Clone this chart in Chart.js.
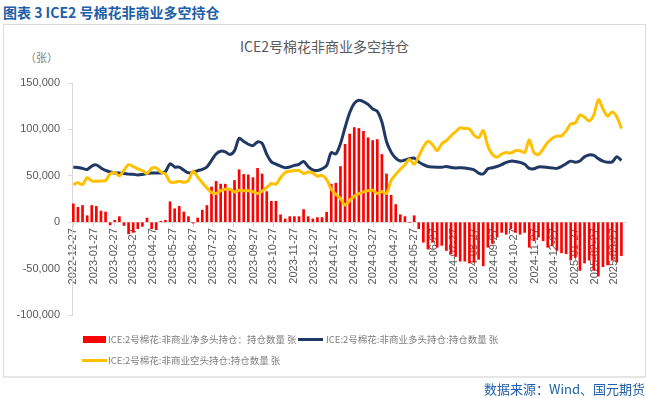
<!DOCTYPE html>
<html lang="zh">
<head>
<meta charset="UTF-8">
<script src="https://cdn.jsdelivr.net/npm/chart.js@4.4.1/dist/chart.umd.min.js"></script>
<title>ICE2号棉花非商业多空持仓</title>
<style>
  body { margin: 0; background: #fff; font-family: "Noto Sans CJK SC", sans-serif; }
  #page { position: relative; width: 649px; height: 398px; overflow: hidden; }
  #heading { position: absolute; left: 3px; top: 2px; font-size: 14px; font-weight: bold; color: #2160a8; white-space: nowrap; }
  #frame { position: absolute; left: 3px; top: 24px; width: 641px; height: 351px; border: 1px solid #dcdcdc; border-bottom: 2px solid #e6e6e6; }
  #wrap { position: absolute; left: 0; top: 0; width: 649px; height: 398px; }
  #chartTitle { position: absolute; left: 0; width: 649px; top: 36px; text-align: center; font-size: 14px; color: #595959; }
  #unit { position: absolute; left: 25px; top: 49px; font-size: 11px; color: #7f7f7f; }
  .lg { position: absolute; font-size: 9.5px; color: #7f7f7f; white-space: nowrap; line-height: 12px; }
  .sw { position: absolute; }
  #source { position: absolute; right: 4px; top: 379px; font-size: 13px; color: #2160a8; white-space: nowrap; }
</style>
</head>
<body>
<div id="page">
  <div id="heading">图表 3 ICE2 号棉花非商业多空持仓</div>
  <div id="frame"></div>
  <div id="chartTitle">ICE2号棉花非商业多空持仓</div>
  <div id="unit">（张）</div>
  <div id="wrap"><canvas id="myChart"></canvas></div>

  <div class="sw" style="left:83px; top:336px; width:23px; height:7px; background:#ff0000;"></div>
  <div class="lg" id="lg0" style="left:108px; top:333px;"></div>
  <div class="sw" style="left:298px; top:338px; width:25px; height:3px; background:#1f3864;"></div>
  <div class="lg" id="lg1" style="left:326px; top:333px;"></div>
  <div class="sw" style="left:82px; top:359px; width:25px; height:3px; background:#ffc000;"></div>
  <div class="lg" id="lg2" style="left:108px; top:354px;"></div>

  <div id="source">数据来源：Wind、国元期货</div>
</div>

<script>
  // weekly data, first report 2022-12-27
  const startDate = '2022-12-27';

  const seriesNames = [
    'ICE:2号棉花:非商业净多头持仓：持仓数量 张',
    'ICE:2号棉花:非商业多头持仓:持仓数量 张',
    'ICE:2号棉花:非商业空头持仓:持仓数量 张'
  ];

  const netPos = [
    19800, 16000, 18000, 7000, 18000, 17000, 12000, 11000, -3000, 2000,
    6000, -3500, -12500, -11000, -7000, -4500, 4500, -7000, -8000, 1000,
    2000, 22000, 14500, 17000, 11000, 6000, -1000, 4500, 13000, 18000,
    38000, 44000, 41000, 41000, 36000, 45000, 56500, 51500, 51000, 48000,
    58000, 52000, 33000, 22500, 22500, 8000, 3500, 6000, 6000, 6000,
    13600, 6000, 3500, 5000, 5000, 10800, 41000, 42000, 60000, 84000,
    95000, 102000, 101000, 98000, 91000, 88000, 89000, 73000, 52000, 29000,
    19000, 8000, 6000, 0, 7000, -7000, -21600, -29000, -21600, -27000,
    -25000, -30500, -34000, -37000, -42000, -42000, -44000, -43000, -40000, -47000,
    -27000, -23000, -16000, -11000, -13000, -7000, -11000, -13000, -11000, -27000,
    -20000, -16000, -20000, -27000, -25000, -30500, -33000, -34000, -40700, -38000,
    -52000, -44000, -41000, -52000, -58000, -48000, -46000, -41000, -43000, -36000
  ];

  const longPos = [
    59300, 59000, 58000, 56800, 60500, 61800, 58500, 55800, 54200, 53000,
    53000, 52500, 51800, 51700, 50800, 51500, 52500, 53000, 53000, 53000,
    54500, 63000, 59500, 59300, 56000, 53200, 54000, 55500, 57000, 59500,
    66500, 73500, 76500, 75800, 73000, 77000, 90500, 87000, 84000, 82500,
    86500, 85000, 73000, 65000, 62500, 60500, 58800, 59500, 61200, 62300,
    65500, 60000, 56400, 55700, 57500, 61000, 75000, 73500, 84500, 102000,
    118000, 128000, 131500, 130000, 127000, 122000, 119500, 108000, 87000, 75500,
    69000, 66000, 67000, 68500, 69000, 65000, 62000, 60000, 59500, 59300,
    59300, 60000, 59000, 58500, 58600, 58500, 57500, 56400, 53000, 52000,
    57500, 58600, 60000, 62000, 64500, 65800, 65500, 64500, 62500, 58000,
    57600, 59500, 59500, 59000, 58500, 58000, 60000, 63000, 65800, 64600,
    66000, 70500, 72500, 72000, 68500, 65800, 64600, 65000, 70500, 66500
  ];

  const shortPos = [
    40600, 42500, 40600, 48000, 44500, 44000, 44300, 45000, 52000, 53500,
    50000, 56000, 62000, 60000, 57500, 55500, 52500, 58000, 58600, 54000,
    52000, 43500, 43000, 44200, 43000, 45000, 55000, 48600, 42500, 37000,
    32000, 31000, 34000, 35600, 35500, 32500, 34500, 34000, 34000, 33000,
    31000, 33500, 37500, 41700, 41000, 48000, 53600, 55000, 55500, 55700,
    52500, 54000, 53000, 49600, 50500, 46000, 35500, 30000, 25500, 18500,
    23500, 28000, 30800, 32700, 34000, 34500, 31000, 33000, 31000, 45000,
    51500, 57000, 62000, 67500, 62500, 71000, 81000, 87200, 83500, 77000,
    84500, 88000, 93000, 97500, 101600, 101000, 100500, 94000, 91000, 98700,
    82000, 73000, 70000, 73500, 75000, 74500, 77000, 77000, 75000, 88800,
    75000, 73000, 79000, 86000, 90500, 92800, 93000, 98500, 106000, 107000,
    115500, 113000, 109000, 115500, 132000, 122000, 114300, 118800, 113500, 101000
  ];

  const tickLabels = [
    '2022-12-27', '2023-01-27', '2023-02-27', '2023-03-27', '2023-04-27', '2023-05-27',
    '2023-06-27', '2023-07-27', '2023-08-27', '2023-09-27', '2023-10-27', '2023-11-27',
    '2023-12-27', '2024-01-27', '2024-02-27', '2024-03-27', '2024-04-27', '2024-05-27',
    '2024-06-27', '2024-07-27', '2024-08-27', '2024-09-27', '2024-10-27', '2024-11-27',
    '2024-12-27', '2025-01-27', '2025-02-27', '2025-03-27'
  ];

  const yTicks = [-100000, -50000, 0, 50000, 100000, 150000];

  function dayNum(s) {
    return (Date.parse(s + 'T00:00:00Z') - Date.parse(startDate + 'T00:00:00Z')) / 86400000;
  }

  // x = days since first report, one point per week
  const toPoints = arr => arr.map((v, i) => ({ x: i * 7, y: v }));

  seriesNames.forEach((n, i) => { document.getElementById('lg' + i).textContent = n; });

  const axisFont = { family: 'Liberation Sans', size: 11 };

  const ctx = document.getElementById('myChart').getContext('2d');
  const myChart = new Chart(ctx, {
    type: 'bar',
    data: {
      datasets: [
        {
          type: 'line', label: seriesNames[2], data: toPoints(shortPos),
          borderColor: '#ffc000', borderWidth: 3, pointRadius: 0, tension: 0.3,
          order: 1, clip: false
        },
        {
          type: 'line', label: seriesNames[1], data: toPoints(longPos),
          borderColor: '#1f3864', borderWidth: 3, pointRadius: 0, tension: 0.3,
          order: 2, clip: false
        },
        {
          type: 'bar', label: seriesNames[0], data: toPoints(netPos),
          backgroundColor: '#ff0000', barThickness: 2, order: 3, clip: false
        }
      ]
    },
    options: {
      responsive: true,
      maintainAspectRatio: false,
      animation: false,
      layout: { padding: { top: 83, bottom: 83, left: 0, right: 23 } },
      plugins: { legend: { display: false }, tooltip: { enabled: false } },
      scales: {
        x: {
          type: 'linear', min: -2, max: 840, offset: false,
          position: { y: 0 },
          afterBuildTicks: s => { s.ticks = tickLabels.map(t => ({ value: dayNum(t) })); },
          ticks: {
            autoSkip: false, minRotation: 90, maxRotation: 90, padding: 2,
            color: '#595959', font: axisFont,
            callback: (v, i) => tickLabels[i]
          },
          grid: { drawOnChartArea: false, tickLength: 4, color: '#d9d9d9', offset: false },
          border: { color: '#d9d9d9' }
        },
        y: {
          min: yTicks[0], max: yTicks[yTicks.length - 1],
          afterFit: s => { s.width = 72; },
          afterBuildTicks: s => { s.ticks = yTicks.map(v => ({ value: v })); },
          ticks: {
            padding: 8, color: '#595959', font: axisFont,
            callback: v => v.toLocaleString('en-US')
          },
          grid: { drawOnChartArea: false, tickLength: 4, color: '#d9d9d9' },
          border: { color: '#d9d9d9' }
        }
      }
    }
  });
</script>
</body>
</html>
